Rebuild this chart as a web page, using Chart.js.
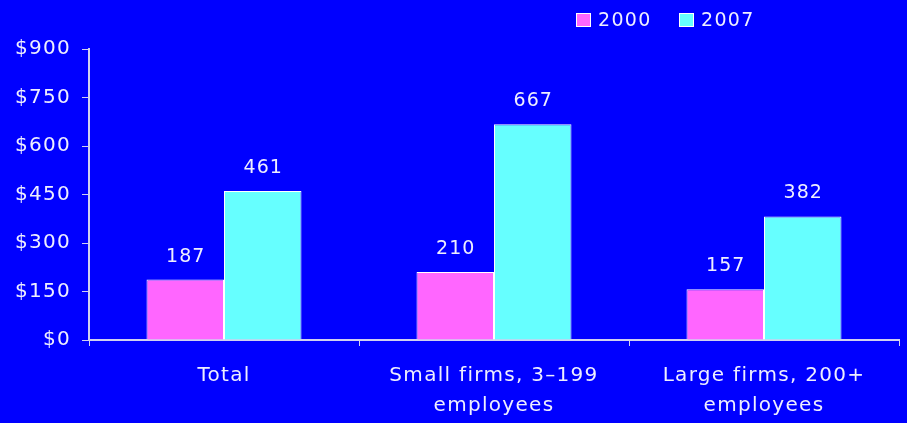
<!DOCTYPE html>
<html>
<head>
<meta charset="utf-8">
<script src="https://cdn.jsdelivr.net/npm/chart.js@4/dist/chart.umd.min.js"></script>
<style>
  html, body { margin: 0; padding: 0; background: #0000FF; }
  #wrap { width: 907px; height: 423px; position: relative; }
</style>
</head>
<body>
<div id="wrap"><canvas id="c" width="907" height="423"></canvas></div>
<script>
const categories = ['Total', ['Small firms, 3–199', 'employees'], ['Large firms, 200+', 'employees']];
const seriesNames = ['2000', '2007'];
const values2000 = [187, 210, 157];
const values2007 = [461, 667, 382];
const yTicks = [0, 150, 300, 450, 600, 750, 900];

const TEXT = '#EEEEFF';
const AXIS = '#D0D0F0';
const FONT = 'DejaVu Sans';
const SPACING = '1.3px';

const spacingPlugin = {
  id: 'spacing',
  beforeLayout(chart) { chart.ctx.letterSpacing = SPACING; },
  beforeDraw(chart) {
    const ctx = chart.ctx;
    ctx.letterSpacing = SPACING;
    ctx.save();
    ctx.fillStyle = '#0000FF';
    ctx.fillRect(0, 0, chart.width, chart.height);
    ctx.restore();
  }
};

const labelPlugin = {
  id: 'valueLabels',
  afterDatasetsDraw(chart) {
    const ctx = chart.ctx;
    ctx.save();
    ctx.letterSpacing = '1px';
    ctx.font = '19px "' + FONT + '"';
    ctx.fillStyle = TEXT;
    ctx.textAlign = 'center';
    ctx.textBaseline = 'alphabetic';
    chart.data.datasets.forEach((ds, i) => {
      const meta = chart.getDatasetMeta(i);
      meta.data.forEach((bar, j) => {
        ctx.fillText(String(ds.data[j]), bar.x + 0.5, bar.y - 18);
      });
    });
    ctx.restore();
  }
};

const legendPlugin = {
  id: 'customLegend',
  afterDraw(chart) {
    const ctx = chart.ctx;
    ctx.save();
    ctx.letterSpacing = '1.3px';
    ctx.font = '19px "' + FONT + '"';
    ctx.textBaseline = 'middle';
    ctx.textAlign = 'left';
    const starts = [576, 679];
    chart.data.datasets.forEach((ds, i) => {
      const x = starts[i];
      ctx.fillStyle = ds.backgroundColor;
      ctx.fillRect(x, 13, 15, 14);
      ctx.strokeStyle = '#FFFFFF';
      ctx.lineWidth = 1;
      ctx.strokeRect(x + 0.5, 13.5, 14, 13);
      ctx.fillStyle = TEXT;
      ctx.fillText(ds.label, x + 22, 21);
    });
    ctx.restore();
  }
};

new Chart(document.getElementById('c'), {
  type: 'bar',
  data: {
    labels: categories,
    datasets: [
      { label: seriesNames[0], data: values2000, backgroundColor: '#FF66FF', borderColor: '#FFFFFF', borderWidth: 1 },
      { label: seriesNames[1], data: values2007, backgroundColor: '#66FFFF', borderColor: '#FFFFFF', borderWidth: 1 }
    ]
  },
  options: {
    responsive: false,
    animation: false,
    devicePixelRatio: 1,
    layout: { padding: { top: 49, right: 8, left: 0, bottom: 0 } },
    datasets: { bar: { categoryPercentage: 0.574, barPercentage: 1.0 } },
    plugins: { legend: { display: false }, tooltip: { enabled: false } },
    scales: {
      x: {
        offset: true,
        grid: { display: true, drawOnChartArea: false, offset: true, color: AXIS, tickLength: 6, tickColor: AXIS },
        border: { display: true, color: AXIS, width: 2 },
        ticks: { color: TEXT, font: { family: FONT, size: 20, lineHeight: 1.5 }, padding: 15, maxRotation: 0, autoSkip: false },
        afterFit(scale) { scale.height = 83; }
      },
      y: {
        min: 0, max: 900,
        afterBuildTicks(scale) { scale.ticks = yTicks.map(v => ({ value: v })); },
        grid: { display: true, drawOnChartArea: false, color: AXIS, tickLength: 7, tickColor: AXIS },
        border: { display: true, color: AXIS, width: 2 },
        ticks: { color: TEXT, font: { family: FONT, size: 20 }, padding: 11, callback: v => '$' + v },
        afterFit(scale) { scale.width = 89; }
      }
    }
  },
  plugins: [spacingPlugin, labelPlugin, legendPlugin]
});
</script>
</body>
</html>
